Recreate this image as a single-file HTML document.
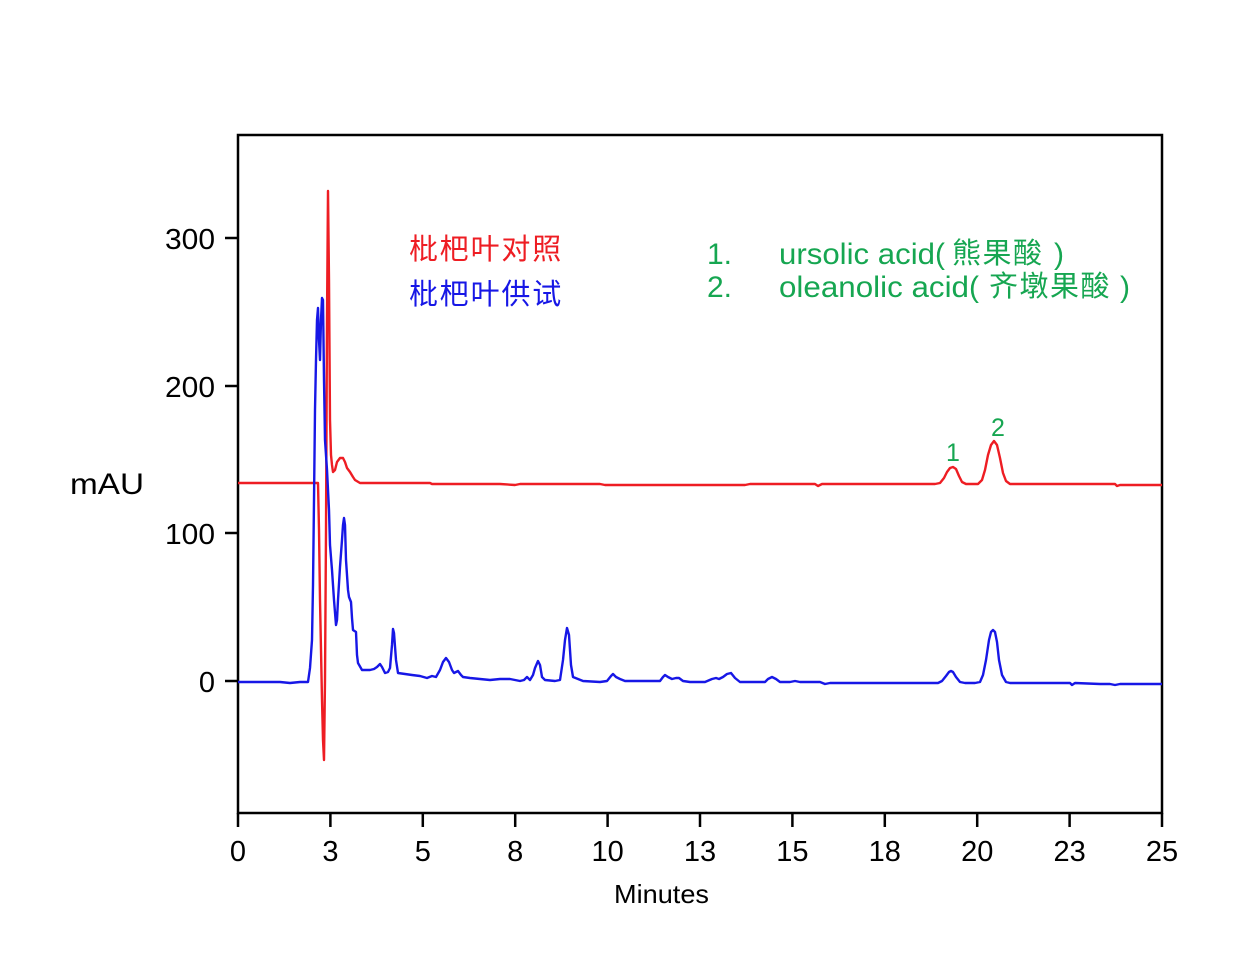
<!DOCTYPE html>
<html>
<head>
<meta charset="utf-8">
<style>
html,body{margin:0;padding:0;background:#fff;}
svg{display:block;}
</style>
</head>
<body>
<svg width="1251" height="980" viewBox="0 0 1251 980" xmlns="http://www.w3.org/2000/svg">
<rect x="0" y="0" width="1251" height="980" fill="#fff"/>
<!-- frame -->
<rect x="238" y="135" width="924" height="678" fill="none" stroke="#000" stroke-width="2.5"/>
<g stroke="#000" stroke-width="2.5">
<line x1="225" y1="238" x2="238" y2="238"/>
<line x1="225" y1="386" x2="238" y2="386"/>
<line x1="225" y1="533" x2="238" y2="533"/>
<line x1="225" y1="681" x2="238" y2="681"/>
<line x1="238" y1="813" x2="238" y2="827"/>
<line x1="330.4" y1="813" x2="330.4" y2="827"/>
<line x1="422.8" y1="813" x2="422.8" y2="827"/>
<line x1="515.2" y1="813" x2="515.2" y2="827"/>
<line x1="607.6" y1="813" x2="607.6" y2="827"/>
<line x1="700" y1="813" x2="700" y2="827"/>
<line x1="792.4" y1="813" x2="792.4" y2="827"/>
<line x1="884.8" y1="813" x2="884.8" y2="827"/>
<line x1="977.2" y1="813" x2="977.2" y2="827"/>
<line x1="1069.6" y1="813" x2="1069.6" y2="827"/>
<line x1="1162" y1="813" x2="1162" y2="827"/>
</g>
<g font-family="'Liberation Sans', Arial, sans-serif" font-size="29" fill="#000">
<text x="215" y="249" text-anchor="end" textLength="50" lengthAdjust="spacingAndGlyphs">300</text>
<text x="215" y="397" text-anchor="end" textLength="50" lengthAdjust="spacingAndGlyphs">200</text>
<text x="215" y="544" text-anchor="end" textLength="50" lengthAdjust="spacingAndGlyphs">100</text>
<text x="215" y="692" text-anchor="end">0</text>
<g text-anchor="middle">
<text x="238" y="861">0</text>
<text x="330.4" y="861">3</text>
<text x="422.8" y="861">5</text>
<text x="515.2" y="861">8</text>
<text x="607.6" y="861">10</text>
<text x="700" y="861">13</text>
<text x="792.4" y="861">15</text>
<text x="884.8" y="861">18</text>
<text x="977.2" y="861">20</text>
<text x="1069.6" y="861">23</text>
<text x="1162" y="861">25</text>
</g>
<text x="70" y="494" font-size="30" textLength="74" lengthAdjust="spacingAndGlyphs">mAU</text>
<text x="614" y="903" font-size="26" textLength="95" lengthAdjust="spacingAndGlyphs">Minutes</text>
</g>
<!-- red trace -->
<polyline fill="none" stroke="#ee1d23" stroke-width="2.4" stroke-linejoin="round" points="238,483 318,483 319,530 320,600 321,650 322,700 323,740 324,760 325,680 326,530 327,320 328,191 329,280 330,420 331,455 332,465 333,472 335,470 337,462 340,458 343,458 345,462 347,468 350,472 353,477 355,480 360,483 430,483 432,484 500,484 515,485 520,484 600,484 605,485 700,485 745,485 750,484 800,484 815,484 818,486 822,484 870,484 900,484 935,484 940,483 944,478 947,472 950,468 953,467 956,469 959,476 962,482 966,484 978,484 982,480 985,470 988,455 991,445 994,441 997,445 1000,458 1003,473 1006,481 1010,484 1040,484 1100,484 1115,484 1117,486 1120,485 1162,485"/>
<!-- blue trace -->
<polyline fill="none" stroke="#1717e6" stroke-width="2.4" stroke-linejoin="round" points="238,682 280,682 290,683 300,682 308,682 310,668 312,640 313,585 314,500 315,410 316,360 317,320 318,308 319,340 320,360 321,320 322,298 323,300 324,380 325,440 327,470 329,510 330,545 332,570 334,600 336,625 337,620 338,600 340,567 342,540 343,525 344,518 345,525 346,560 348,590 349,597 351,602 352,618 353,630 356,632 357,655 358,663 362,670 370,670 374,669 377,667 380,664 382,667 385,673 388,672 390,668 392,645 393,629 394,633 396,660 398,673 405,674 412,675 420,676 427,678 432,676 436,677 440,670 443,662 446,658 449,662 452,670 454,673 456,672 458,671 461,675 463,677 470,678 480,679 490,680 500,679 510,679 520,681 524,680 527,677 530,680 533,675 535,668 538,661 540,665 542,677 545,680 555,681 560,680 563,660 565,640 567,628 569,635 571,665 573,677 578,679 583,681 600,682 607,681 611,676 613,674 616,677 620,679 625,681 660,681 663,677 665,675 668,677 672,679 676,678 679,678 683,681 690,682 705,682 712,679 716,678 719,679 723,677 727,674 731,673 735,678 740,682 765,682 768,679 772,677 776,679 780,682 790,682 795,681 800,682 820,682 825,684 830,683 850,683 870,683 900,683 930,683 938,683 942,681 946,676 949,672 951,671 953,672 956,677 960,682 965,683 975,683 980,682 983,675 986,660 989,640 991,632 993,630 995,632 997,642 999,660 1002,675 1006,682 1010,683 1050,683 1070,683 1072,685 1075,683 1100,684 1110,684 1115,685 1120,684 1162,684"/>
<!-- peak labels -->
<g font-family="'Liberation Sans', Arial, sans-serif" font-size="25" fill="#16a651" text-anchor="middle">
<text x="953" y="461">1</text>
<text x="998" y="436">2</text>
</g>
<!-- Chinese legend -->
<g font-family="'Liberation Sans','Noto Sans CJK SC', sans-serif" font-size="29">
<text x="409" y="259" fill="#ee1d23" letter-spacing="1.8">枇杷叶对照</text>
<text x="409" y="304" fill="#1717e6" letter-spacing="1.8">枇杷叶供试</text>
</g>
<!-- green legend -->
<g font-family="'Liberation Sans','Noto Sans CJK SC', sans-serif" font-size="30" fill="#16a651">
<text x="707" y="264">1.</text>
<text x="707" y="297">2.</text>
<text x="779" y="264" textLength="156" lengthAdjust="spacingAndGlyphs">ursolic acid</text>
<text x="935" y="264">(</text>
<text x="779" y="297" textLength="190" lengthAdjust="spacingAndGlyphs">oleanolic acid</text>
<text x="969" y="297">(</text>
</g>
<g font-family="'Liberation Sans','Noto Sans CJK SC', sans-serif" font-size="29" fill="#16a651">
<text x="952" y="263" letter-spacing="1.5">熊果酸</text>
<text x="1054" y="264" font-family="'Liberation Sans', sans-serif" font-size="30">)</text>
<text x="989" y="296" letter-spacing="1.5">齐墩果酸</text>
<text x="1120" y="297" font-family="'Liberation Sans', sans-serif" font-size="30">)</text>
</g>
</svg>
</body>
</html>
